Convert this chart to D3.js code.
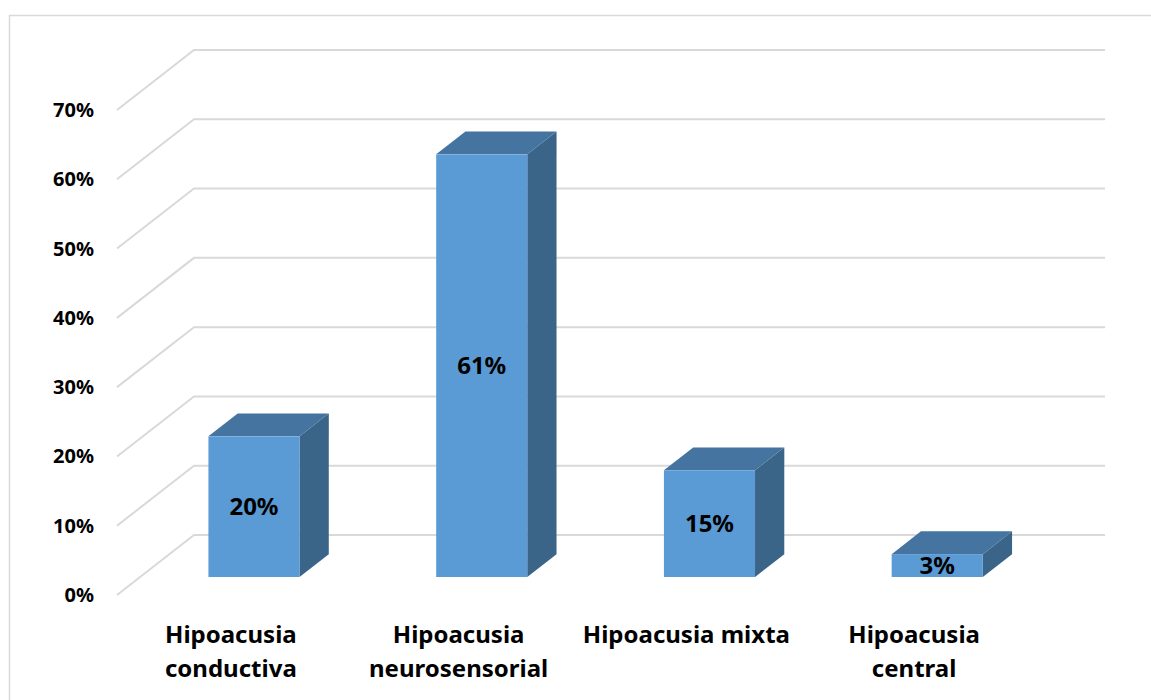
<!DOCTYPE html>
<html>
<head>
<meta charset="utf-8">
<script src="https://cdn.jsdelivr.net/npm/d3@7"></script>
<style>
    body { margin: 0; background: #fff; }
    svg { display: block; font-family: "Noto Sans", sans-serif; font-weight: bold; }
</style>
</head>
<body>
<svg id="chart" width="1151" height="700"></svg>
<script>
const categories = [
    ["Hipoacusia", "conductiva"],
    ["Hipoacusia", "neurosensorial"],
    ["Hipoacusia mixta"],
    ["Hipoacusia", "central"],
]
const values = [0.203, 0.61, 0.154, 0.033]
const ticks = [0, 0.1, 0.2, 0.3, 0.4, 0.5, 0.6, 0.7]

const frontColor = "#5b9bd5"
const topColor = "#44749f"
const sideColor = "#3b6489"
const gridColor = "#d9d9d9"

// 3d box: front plane of the floor and how far back the wall sits
const depthX = 77
const depthY = -60
const wallRight = 1105
// bars sit between these fractions of the depth
const barFront = 0.3
const barBack = 0.68

let svg = d3.select("svg#chart")

// outer frame (only top and left edges are visible)
svg.append("path")
    .attr("d", "M 9.5,700 L 9.5,15.5 L 1151,15.5")
    .attr("fill", "none")
    .attr("stroke", gridColor)
    .attr("stroke-width", 1.5)

let y = d3.scaleLinear()
    .domain([0, 0.7])
    .range([595, 110])

let x = d3.scaleBand()
    .domain(d3.range(categories.length))
    .range([117, 1028])
    .paddingInner(0.6)
    .paddingOuter(0.3)

let x0 = x.range()[0]

// gridlines: diagonal on the side wall then flat along the back wall
svg.append("g")
    .selectAll("path")
    .data(ticks)
    .join("path")
        .attr("fill", "none")
        .attr("stroke", gridColor)
        .attr("stroke-width", 2)
        .attr("d", d => `M ${x0},${y(d)} L ${x0 + depthX},${y(d) + depthY} L ${wallRight},${y(d) + depthY}`)

svg.append("g")
    .selectAll("text")
    .data(ticks)
    .join("text")
        .attr("x", 94)
        .attr("y", d => y(d))
        .attr("dy", "0.35em")
        .attr("text-anchor", "end")
        .attr("font-size", 20)
        .attr("fill", "#000")
        .text(d3.format(".0%"))

// bars
let fx = depthX * barFront, fy = depthY * barFront
let bx = depthX * (barBack - barFront), by = depthY * (barBack - barFront)
let bw = x.bandwidth()

let bars = svg.append("g")
    .selectAll("g")
    .data(values)
    .join("g")

bars.each(function(v, i) {
    let g = d3.select(this)
    let left = x(i) + fx
    let right = left + bw
    let base = y(0) + fy
    let top = y(v) + fy
    g.append("path")
        .attr("fill", sideColor)
        .attr("d", `M ${right},${base} L ${right + bx},${base + by} L ${right + bx},${top + by} L ${right},${top} Z`)
    g.append("path")
        .attr("fill", topColor)
        .attr("d", `M ${left},${top} L ${left + bx},${top + by} L ${right + bx},${top + by} L ${right},${top} Z`)
    g.append("rect")
        .attr("x", left)
        .attr("y", top)
        .attr("width", bw)
        .attr("height", base - top)
        .attr("fill", frontColor)
    g.append("text")
        .attr("x", left + bw / 2)
        .attr("y", (top + base) / 2)
        .attr("dy", "0.35em")
        .attr("text-anchor", "middle")
        .attr("font-size", 24)
        .attr("fill", "#000")
        .text(d3.format(".0%")(v))
})

// category labels
svg.append("g")
    .selectAll("text")
    .data(categories)
    .join("text")
        .attr("text-anchor", "middle")
        .attr("font-size", 24)
        .attr("fill", "#000")
        .each(function(lines, i) {
            let t = d3.select(this)
            lines.forEach((line, j) => {
                t.append("tspan")
                    .attr("x", x(i) + bw / 2)
                    .attr("y", 643 + j * 34)
                    .text(line)
            })
        })
</script>
</body>
</html>
